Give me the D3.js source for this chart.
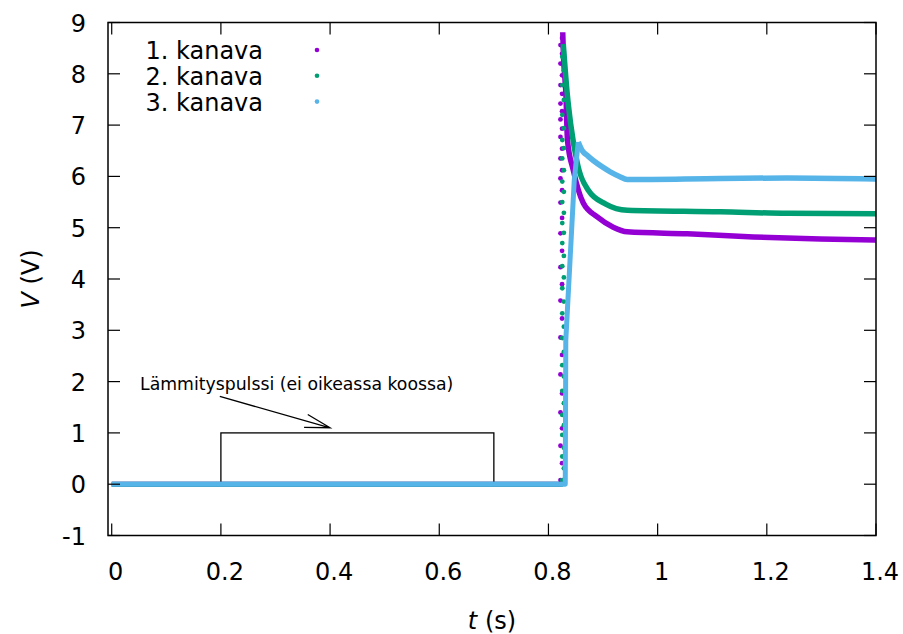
<!DOCTYPE html>
<html>
<head>
<meta charset="utf-8">
<script src="https://cdn.jsdelivr.net/npm/d3@7"></script>
<style>
  body { margin: 0; background: #fff; }
  svg { display: block; font-family: "DejaVu Sans", sans-serif; }
</style>
</head>
<body>
<svg id="chart" width="903" height="634"></svg>
<script>
// ---------------- data ----------------
const xTicks = [0, 0.2, 0.4, 0.6, 0.8, 1, 1.2, 1.4];
const yTicks = [-1, 0, 1, 2, 3, 4, 5, 6, 7, 8, 9];
const seriesNames = ["1. kanava", "2. kanava", "3. kanava"];

// baseline (all channels at 0 V before the pulse arrives)
const ch1Base = [[0, 0], [0.8235, 0]];
const ch2Base = [[0, 0], [0.8268, 0]];

// sparse samples during the fast rise (t, V)
const ch1RiseT = 0.8235;
const ch1RiseV = [0.08, 0.41, 0.75, 1.09, 1.40, 1.77, 2.14, 2.52, 2.86, 3.23, 3.58, 3.90, 4.23, 4.55, 4.89, 5.19, 5.49, 5.73, 5.96, 6.12, 6.35, 6.54, 6.77, 6.93, 7.11, 7.27, 7.42, 7.61, 7.78, 7.97, 8.20, 8.39, 8.56, 8.70];
const ch2RiseT = 0.8268;
const ch2RiseV = [0.08, 0.31, 0.54, 0.71, 0.96, 1.15, 1.35, 1.58, 1.82, 2.10, 2.32, 2.58, 2.85, 3.07, 3.33, 3.56, 3.82, 4.03, 4.25, 4.45, 4.70, 4.90, 5.09, 5.29, 5.50, 5.70, 5.90, 6.12, 6.35, 6.55, 6.71, 6.94, 7.20, 7.49, 7.78, 8.07, 8.33];

// dense samples after the peak (t, V)
const ch1Tail = [[0.8262, 8.81], [0.8272, 8.45], [0.8322, 7.55], [0.8348, 6.71], [0.8455, 6.12], [0.8638, 5.48], [0.8894, 5.21], [0.9187, 5.01], [0.9443, 4.92], [1.0544, 4.88], [1.1754, 4.82], [1.2982, 4.78], [1.4, 4.76]];
const ch2Tail = [[0.8272, 8.58], [0.8345, 7.60], [0.8410, 7.00], [0.8528, 6.26], [0.8730, 5.73], [0.9050, 5.46], [0.9443, 5.34], [1.1149, 5.31], [1.2377, 5.28], [1.4, 5.27]];
const ch3Rise = [[0, 0], [0.8308, 0], [0.8318, 2.81], [0.8473, 5.93], [0.8546, 6.67]];
const ch3Tail = [[0.8546, 6.67], [0.8620, 6.50], [0.8720, 6.40], [0.8821, 6.31], [0.8980, 6.19], [0.9132, 6.09], [0.9300, 6.00], [0.9443, 5.94], [1.1149, 5.96], [1.2377, 5.97], [1.4, 5.95]];

// heating pulse marker (not to scale) and its annotation
const pulse = { t0: 0.2, t1: 0.7, v0: 0, v1: 1 };
const pulseLabel = "Lämmityspulssi (ei oikeassa koossa)";
const arrowFrom = [0.198, 1.71];
const arrowTo = [0.4, 1.1];

// ---------------- drawing ----------------
const colors = ["#9400d3", "#009e73", "#56b4e9"];
const svg = d3.select("#chart");
const L = 108, R = 876, T = 22.5, B = 535.5;

const x = d3.scaleLinear().domain([-0.0068, 1.4]).range([L, R]);
const y = d3.scaleLinear().domain([-1, 9]).range([B, T]);

svg.append("defs").append("clipPath").attr("id", "clip")
  .append("rect").attr("x", L).attr("y", T).attr("width", R - L).attr("height", B - T);

// pulse rectangle
svg.append("rect")
  .attr("x", x(pulse.t0)).attr("y", y(pulse.v1))
  .attr("width", x(pulse.t1) - x(pulse.t0)).attr("height", y(pulse.v0) - y(pulse.v1))
  .attr("fill", "none").attr("stroke", "#000").attr("stroke-width", 1.3);

// annotation
svg.append("text").attr("x", 140).attr("y", 390)
  .attr("font-size", 17.3).attr("fill", "#000").text(pulseLabel);

const ax0 = x(arrowFrom[0]), ay0 = y(arrowFrom[1]), ax1 = x(arrowTo[0]), ay1 = y(arrowTo[1]);
const ang = Math.atan2(ay1 - ay0, ax1 - ax0);
const hl = 26, ha = 15 * Math.PI / 180;
svg.append("path")
  .attr("d", `M${ax0},${ay0}L${ax1},${ay1}` +
    `M${ax1 - hl * Math.cos(ang - ha)},${ay1 - hl * Math.sin(ang - ha)}L${ax1},${ay1}` +
    `L${ax1 - hl * Math.cos(ang + ha)},${ay1 - hl * Math.sin(ang + ha)}`)
  .attr("fill", "none").attr("stroke", "#000").attr("stroke-width", 1.3);

const plot = svg.append("g").attr("clip-path", "url(#clip)");
const lineLin = d3.line().x(d => x(d[0])).y(d => y(d[1]));
const lineMono = d3.line().x(d => x(d[0])).y(d => y(d[1])).curve(d3.curveMonotoneX);

function drawSeries(base, riseT, riseV, tail, color) {
  plot.append("path").attr("d", lineLin(base)).attr("fill", "none")
    .attr("stroke", color).attr("stroke-width", 5);
  plot.selectAll(null).data(riseV).enter().append("circle")
    .attr("cx", (d, i) => x(riseT) + (i % 2 ? 0.8 : -0.8)).attr("cy", d => y(d)).attr("r", 2.4)
    .attr("fill", color);
  plot.append("path").attr("d", lineMono(tail)).attr("fill", "none")
    .attr("stroke", color).attr("stroke-width", 5.5).attr("stroke-linejoin", "round");
}
drawSeries(ch1Base, ch1RiseT, ch1RiseV, ch1Tail, colors[0]);
drawSeries(ch2Base, ch2RiseT, ch2RiseV, ch2Tail, colors[1]);
plot.append("path").attr("d", lineLin(ch3Rise)).attr("fill", "none")
  .attr("stroke", colors[2]).attr("stroke-width", 5).attr("stroke-linejoin", "round");
plot.append("path").attr("d", lineMono(ch3Tail)).attr("fill", "none")
  .attr("stroke", colors[2]).attr("stroke-width", 5.5).attr("stroke-linejoin", "round");

// border
svg.append("rect").attr("x", L).attr("y", T).attr("width", R - L).attr("height", B - T)
  .attr("fill", "none").attr("stroke", "#000").attr("stroke-width", 1.5);

// ticks (inward, mirrored)
const tl = 12;
const tg = svg.append("g").attr("stroke", "#000").attr("stroke-width", 1.2);
xTicks.forEach(t => {
  tg.append("line").attr("x1", x(t)).attr("x2", x(t)).attr("y1", B).attr("y2", B - tl);
  tg.append("line").attr("x1", x(t)).attr("x2", x(t)).attr("y1", T).attr("y2", T + tl);
});
yTicks.forEach(v => {
  tg.append("line").attr("x1", L).attr("x2", L + tl).attr("y1", y(v)).attr("y2", y(v));
  tg.append("line").attr("x1", R).attr("x2", R - tl).attr("y1", y(v)).attr("y2", y(v));
});

// tick labels
svg.append("g").selectAll("text").data(xTicks).enter().append("text")
  .attr("x", d => x(d) + 4).attr("y", 580).attr("text-anchor", "middle")
  .attr("font-size", 24).text(d => d3.format("~g")(d));
svg.append("g").selectAll("text").data(yTicks).enter().append("text")
  .attr("x", 86).attr("y", d => y(d) + 9).attr("text-anchor", "end")
  .attr("font-size", 24).text(d => d);

// axis titles
const xt = svg.append("text").attr("x", 492).attr("y", 629).attr("text-anchor", "middle").attr("font-size", 24);
xt.append("tspan").attr("font-style", "italic").text("t");
xt.append("tspan").text(" (s)");
const yt = svg.append("text").attr("transform", `translate(39,${(T + B) / 2}) rotate(-90)`)
  .attr("text-anchor", "middle").attr("font-size", 24);
yt.append("tspan").attr("font-style", "italic").text("V");
yt.append("tspan").text(" (V)");

// legend
seriesNames.forEach((name, i) => {
  svg.append("text").attr("x", 263).attr("y", 59 + i * 25.8).attr("text-anchor", "end")
    .attr("font-size", 24).text(name);
  svg.append("circle").attr("cx", 317).attr("cy", 50 + i * 25.8).attr("r", 2.3).attr("fill", colors[i]);
});
</script>
</body>
</html>
